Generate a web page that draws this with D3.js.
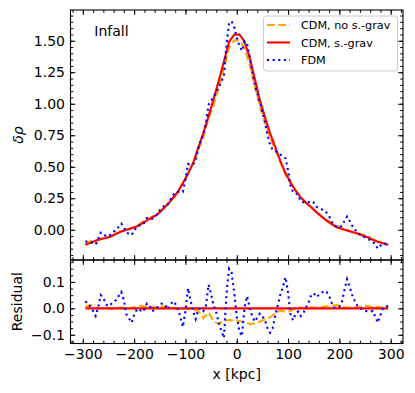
<!DOCTYPE html>
<html lang="en">
<head>
    <meta charset="UTF-8">
    <title>Infall</title>
    <script src="https://d3js.org/d3.v7.min.js"></script>
    <style>
        body { margin: 0; background: #fff; }
        svg text { font-family: "DejaVu Sans", sans-serif; fill: #000; }
    </style>
</head>
<body>
    <div id="chart"></div>

    <script>
        // x sampling of the CDM curves (kpc)
        var xCoarse = [-295, -285, -275, -265, -255, -245, -235, -225, -215, -205,
            -195, -185, -175, -165, -155, -145, -135, -125, -115, -105,
            -95, -85, -75, -65, -55, -45, -35, -25, -15, -5,
            5, 15, 25, 35, 45, 55, 65, 75, 85, 95,
            105, 115, 125, 135, 145, 155, 165, 175, 185, 195,
            205, 215, 225, 235, 245, 255, 265, 275, 285, 295];

        // CDM with self-gravity
        var cdmSg = [-0.120, -0.104, -0.088, -0.073, -0.066, -0.052, -0.032, -0.014, 0.000, 0.012,
            0.025, 0.048, 0.075, 0.097, 0.120, 0.158, 0.200, 0.248, 0.300, 0.370,
            0.445, 0.530, 0.650, 0.770, 0.900, 1.040, 1.185, 1.335, 1.490, 1.548,
            1.550, 1.495, 1.370, 1.200, 1.030, 0.895, 0.765, 0.655, 0.545, 0.450,
            0.375, 0.310, 0.255, 0.215, 0.178, 0.140, 0.105, 0.073, 0.045, 0.020,
            0.006, -0.005, -0.018, -0.030, -0.045, -0.060, -0.080, -0.095, -0.108, -0.120];

        // CDM without self-gravity
        var cdmNoSg = [-0.115, -0.090, -0.086, -0.073, -0.062, -0.054, -0.032, -0.011, -0.002, 0.014,
            0.031, 0.058, 0.079, 0.103, 0.122, 0.166, 0.205, 0.250, 0.296, 0.368,
            0.445, 0.526, 0.640, 0.732, 0.885, 0.990, 1.127, 1.287, 1.446, 1.503,
            1.502, 1.443, 1.311, 1.143, 0.980, 0.853, 0.731, 0.635, 0.537, 0.437,
            0.365, 0.311, 0.258, 0.215, 0.182, 0.142, 0.110, 0.081, 0.055, 0.032,
            0.012, -0.003, -0.015, -0.026, -0.037, -0.050, -0.076, -0.089, -0.106, -0.117];

        // residuals against CDM with self-gravity
        var residSg = [0, 0, 0, 0, 0, 0, 0, 0, 0, 0, 0, 0, 0, 0, 0, 0, 0, 0, 0, 0,
            0, 0, 0, 0, 0, 0, 0, 0, 0, 0, 0, 0, 0, 0, 0, 0, 0, 0, 0, 0,
            0, 0, 0, 0, 0, 0, 0, 0, 0, 0, 0, 0, 0, 0, 0, 0, 0, 0, 0, 0];

        var residNoSg = [0.005, 0.014, 0.002, 0.000, 0.004, -0.002, 0.000, 0.003, -0.002, 0.002,
            0.006, 0.010, 0.004, 0.006, 0.002, 0.008, 0.005, 0.002, -0.004, -0.002,
            0.000, -0.004, -0.010, -0.038, -0.015, -0.050, -0.058, -0.048, -0.044, -0.045,
            -0.048, -0.052, -0.059, -0.057, -0.050, -0.042, -0.034, -0.020, -0.008, -0.013,
            -0.010, 0.001, 0.003, 0.000, 0.004, 0.002, 0.005, 0.008, 0.010, 0.012,
            0.006, 0.002, 0.003, 0.004, 0.008, 0.010, 0.004, 0.006, 0.002, 0.003];

        // x sampling of the FDM curve (kpc)
        var xFine = [-295, -290, -285, -280, -275, -270, -265, -260, -255, -250,
            -245, -240, -235, -230, -225, -220, -215, -210, -205, -200,
            -195, -190, -185, -180, -175, -170, -165, -160, -155, -150,
            -145, -140, -135, -130, -125, -120, -115, -110, -105, -100,
            -95, -90, -85, -80, -75, -70, -65, -60, -55, -50,
            -45, -40, -35, -30, -25, -20, -15, -10, -5, 0,
            5, 10, 15, 20, 25, 30, 35, 40, 45, 50,
            55, 60, 65, 70, 75, 80, 85, 90, 95, 100,
            105, 110, 115, 120, 125, 130, 135, 140, 145, 150,
            155, 160, 165, 170, 175, 180, 185, 190, 195, 200,
            205, 210, 215, 220, 225, 230, 235, 240, 245, 250,
            255, 260, 265, 270, 275, 280, 285, 290, 295];

        var fdm = [-0.093, -0.094, -0.099, -0.106, -0.117, -0.075, -0.023, -0.031, -0.051, -0.051,
            -0.036, -0.017, 0.000, 0.024, 0.048, 0.023, -0.023, -0.032, -0.042, -0.007,
            0.020, 0.034, 0.034, 0.059, 0.093, 0.094, 0.087, 0.102, 0.123, 0.154,
            0.176, 0.194, 0.196, 0.232, 0.275, 0.292, 0.300, 0.305, 0.300, 0.397,
            0.521, 0.517, 0.518, 0.550, 0.647, 0.710, 0.760, 0.845, 0.990, 1.025,
            1.050, 1.097, 1.130, 1.175, 1.223, 1.467, 1.640, 1.654, 1.608, 1.525,
            1.465, 1.420, 1.495, 1.478, 1.375, 1.255, 1.150, 1.080, 1.010, 0.932,
            0.850, 0.755, 0.673, 0.635, 0.626, 0.612, 0.597, 0.579, 0.568, 0.472,
            0.345, 0.297, 0.292, 0.270, 0.226, 0.218, 0.218, 0.218, 0.228, 0.216,
            0.183, 0.172, 0.163, 0.155, 0.135, 0.107, 0.065, 0.035, 0.023, 0.019,
            0.031, 0.070, 0.105, 0.071, 0.032, 0.004, -0.020, -0.037, -0.048, -0.061,
            -0.072, -0.082, -0.090, -0.119, -0.149, -0.126, -0.108, -0.112, -0.108];

        var residFdm = [0.027, 0.018, 0.005, -0.010, -0.029, 0.005, 0.050, 0.039, 0.015, 0.008,
            0.016, 0.025, 0.032, 0.047, 0.062, 0.030, -0.023, -0.038, -0.054, -0.025,
            -0.005, -0.002, -0.014, -0.003, 0.018, 0.008, -0.010, -0.006, 0.003, 0.015,
            0.018, 0.015, -0.004, 0.008, 0.027, 0.018, 0.000, -0.030, -0.070, -0.010,
            0.076, 0.030, -0.012, -0.040, -0.003, 0.000, -0.010, 0.010, 0.090, 0.055,
            0.010, -0.015, -0.055, -0.085, -0.112, 0.055, 0.150, 0.135, 0.060, -0.030,
            -0.085, -0.105, 0.000, 0.046, 0.005, -0.030, -0.050, -0.035, -0.020, -0.030,
            -0.045, -0.075, -0.092, -0.075, -0.029, 0.012, 0.052, 0.082, 0.118, 0.060,
            -0.030, -0.045, -0.018, -0.012, -0.029, -0.017, 0.003, 0.022, 0.050, 0.057,
            0.043, 0.050, 0.058, 0.066, 0.062, 0.048, 0.020, 0.003, 0.003, 0.006,
            0.025, 0.070, 0.110, 0.082, 0.050, 0.028, 0.010, 0.000, -0.003, -0.009,
            -0.012, -0.012, -0.010, -0.032, -0.054, -0.025, 0.000, 0.002, 0.012];

        // ticks
        var xMajor = [-300, -200, -100, 0, 100, 200, 300];
        var yTopMajor = [0.00, 0.25, 0.50, 0.75, 1.00, 1.25, 1.50];
        var yBotMajor = [-0.1, 0.0, 0.1];

        var legendLabels = ["CDM, no s.-grav", "CDM, s.-grav", "FDM"];

        // layout
        var width = 415, height = 393;
        var plotLeft = 70.5, plotRight = 403;
        var plotTop = 10, plotMid = 260, plotBottom = 343.5;

        var styles = {
            noSg: { color: "orange", dash: "7.8,3.4" },
            sg: { color: "red", dash: null },
            fdm: { color: "blue", dash: "2.1,3.5" }
        };

        var svg = d3.select("#chart").append("svg")
            .attr("width", width)
            .attr("height", height);

        var x = d3.scaleLinear().domain([-324, 324]).range([plotLeft, plotRight]);
        var yTop = d3.scaleLinear().domain([-0.24, 1.744]).range([plotMid, plotTop]);
        var yBot = d3.scaleLinear().domain([-0.133, 0.183]).range([plotBottom, plotMid]);

        // draw one series as a path
        function drawLine(xs, ys, yScale, style) {
            var line = d3.line()
                .x(function(d, i) { return x(xs[i]); })
                .y(function(d) { return yScale(d); });
            var path = svg.append("path")
                .datum(ys)
                .attr("d", line)
                .attr("fill", "none")
                .attr("stroke", style.color)
                .attr("stroke-width", 2.1);
            if (style.dash) path.attr("stroke-dasharray", style.dash);
            return path;
        }

        // top panel
        drawLine(xCoarse, cdmNoSg, yTop, styles.noSg);
        drawLine(xCoarse, cdmSg, yTop, styles.sg);
        drawLine(xFine, fdm, yTop, styles.fdm);

        // residual panel
        drawLine(xCoarse, residNoSg, yBot, styles.noSg);
        drawLine(xCoarse, residSg, yBot, styles.sg);
        drawLine(xFine, residFdm, yBot, styles.fdm);

        // axis helper: inward ticks, optional labels
        function addAxis(axisFn, scale, values, size, transform, fmt, pad) {
            var ax = axisFn(scale)
                .tickValues(values)
                .tickSize(size)
                .tickPadding(pad || 0)
                .tickFormat(fmt || function() { return ""; });
            var g = svg.append("g").attr("transform", transform).call(ax);
            g.select(".domain").remove();
            g.attr("font-size", 14).attr("font-family", "DejaVu Sans, sans-serif");
            g.selectAll("line").attr("stroke", "#000").attr("stroke-width", 1);
            return g;
        }

        var majorLen = -4.9, minorLen = -2.8;
        var xMinor = d3.range(-320, 321, 20);
        var yTopMinor = d3.range(-0.20, 1.71, 0.05);
        var yBotMinor = d3.range(-0.125, 0.18, 0.025);

        // x ticks on both panels (top and bottom edges)
        [["translate(0," + plotTop + ")", d3.axisTop],
         ["translate(0," + plotMid + ")", d3.axisBottom],
         ["translate(0," + plotMid + ")", d3.axisTop]].forEach(function(p) {
            // a tick pointing into its own panel
            var sign = 1;
            addAxis(p[1], x, xMajor, majorLen * sign, p[0]);
            addAxis(p[1], x, xMinor, minorLen * sign, p[0]);
        });
        addAxis(d3.axisBottom, x, xMajor, majorLen, "translate(0," + plotBottom + ")", d3.format("d"), 5.6);
        addAxis(d3.axisBottom, x, xMinor, minorLen, "translate(0," + plotBottom + ")");

        // y ticks, top panel
        addAxis(d3.axisLeft, yTop, yTopMajor, majorLen, "translate(" + plotLeft + ",0)", d3.format(".2f"), 5.5);
        addAxis(d3.axisLeft, yTop, yTopMinor, minorLen, "translate(" + plotLeft + ",0)");
        addAxis(d3.axisRight, yTop, yTopMajor, majorLen, "translate(" + plotRight + ",0)");
        addAxis(d3.axisRight, yTop, yTopMinor, minorLen, "translate(" + plotRight + ",0)");

        // y ticks, residual panel
        addAxis(d3.axisLeft, yBot, yBotMajor, majorLen, "translate(" + plotLeft + ",0)", d3.format(".1f"), 5.5);
        addAxis(d3.axisLeft, yBot, yBotMinor, minorLen, "translate(" + plotLeft + ",0)");
        addAxis(d3.axisRight, yBot, yBotMajor, majorLen, "translate(" + plotRight + ",0)");
        addAxis(d3.axisRight, yBot, yBotMinor, minorLen, "translate(" + plotRight + ",0)");

        // frames
        [[plotTop, plotMid], [plotMid, plotBottom]].forEach(function(r) {
            svg.append("rect")
                .attr("x", plotLeft)
                .attr("y", r[0])
                .attr("width", plotRight - plotLeft)
                .attr("height", r[1] - r[0])
                .attr("fill", "none")
                .attr("stroke", "#000")
                .attr("stroke-width", 1.1);
        });

        // labels
        svg.append("text")
            .attr("x", 94.3).attr("y", 36)
            .attr("font-size", 14)
            .text("Infall");

        svg.append("text")
            .attr("transform", "translate(22.5,135) rotate(-90)")
            .attr("text-anchor", "middle")
            .attr("font-size", 14)
            .attr("font-style", "italic")
            .text("δρ");

        svg.append("text")
            .attr("transform", "translate(21.5,301.7) rotate(-90)")
            .attr("text-anchor", "middle")
            .attr("font-size", 14)
            .text("Residual");

        svg.append("text")
            .attr("x", x(0)).attr("y", 379)
            .attr("text-anchor", "middle")
            .attr("font-size", 14)
            .text("x [kpc]");

        // legend
        var legend = svg.append("g");
        legend.append("rect")
            .attr("x", 263.5).attr("y", 16)
            .attr("width", 134).attr("height", 55)
            .attr("rx", 3)
            .attr("fill", "#fff").attr("fill-opacity", 0.8)
            .attr("stroke", "#cccccc").attr("stroke-width", 1);

        [styles.noSg, styles.sg, styles.fdm].forEach(function(s, i) {
            var yy = 25 + i * 17.5;
            var l = legend.append("line")
                .attr("x1", 267).attr("x2", 290)
                .attr("y1", yy).attr("y2", yy)
                .attr("stroke", s.color)
                .attr("stroke-width", 2.1);
            if (s.dash) l.attr("stroke-dasharray", s.dash);
            legend.append("text")
                .attr("x", 301).attr("y", yy + 4)
                .attr("font-size", 11.2)
                .text(legendLabels[i]);
        });
    </script>
</body>
</html>
